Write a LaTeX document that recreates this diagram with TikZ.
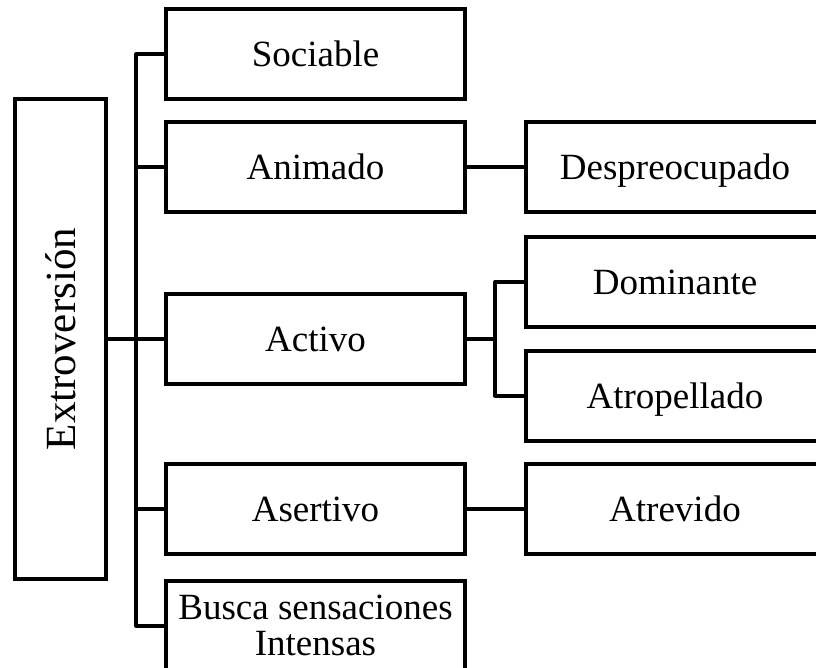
\documentclass[tikz,border=0pt]{standalone}
\usepackage{fontspec}
\setmainfont{Liberation Serif}
\usepackage{tikz}
\usetikzlibrary{positioning}

\begin{document}
\begin{tikzpicture}
    [
      x=1pt, y=-1pt,
      frame/.style={draw, line width=4pt, minimum width=299pt, minimum height=90pt,
        inner sep=0pt, align=center, font=\fontsize{37}{36}\selectfont},
      box/.style={frame, text height=31pt, text depth=6pt},
      root/.style={frame, minimum width=91pt, minimum height=480pt,
        font=\fontsize{43}{43}\selectfont},
      link/.style={line width=4pt, line join=round},
    ]
    \useasboundingbox (0,0) rectangle (816,668);

    \node (extro) [root] at (60.5,339) {\rotatebox{90}{Extroversión}};
    \node (sociable) [box] at (315.5,54.5) {Sociable};
    \node (animado) [box] at (315.5,167.5) {Animado};
    \node (activo) [box] at (315.5,338.5) {Activo};
    \node (asertivo) [box] at (315.5,509) {Asertivo};
    \node (busca) [frame] at (315.5,625.5) {Busca sensaciones\\Intensas};

    \node (despreocupado) [box] at (675,167.5) {Despreocupado};
    \node (dominante) [box] at (675,282) {Dominante};
    \node (atropellado) [box] at (675,395.5) {Atropellado};
    \node (atrevido) [box] at (675,509) {Atrevido};

    \coordinate (trunk) at (136,339);
    \coordinate (fork) at (495,338.5);

    \draw [link] (extro.east) -- (trunk);
    \draw [link] (sociable.west) -| (trunk) |- (busca.west);
    \draw [link] (dominante.west) -| (fork) |- (atropellado.west);

    \path
    (animado) edge [link] (animado -| trunk)
    (activo) edge [link] (activo -| trunk)
    (asertivo) edge [link] (asertivo -| trunk)
    (activo) edge [link] (fork)
    (animado) edge [link] (despreocupado)
    (asertivo) edge [link] (atrevido)
    ;

  \end{tikzpicture}
\end{document}
